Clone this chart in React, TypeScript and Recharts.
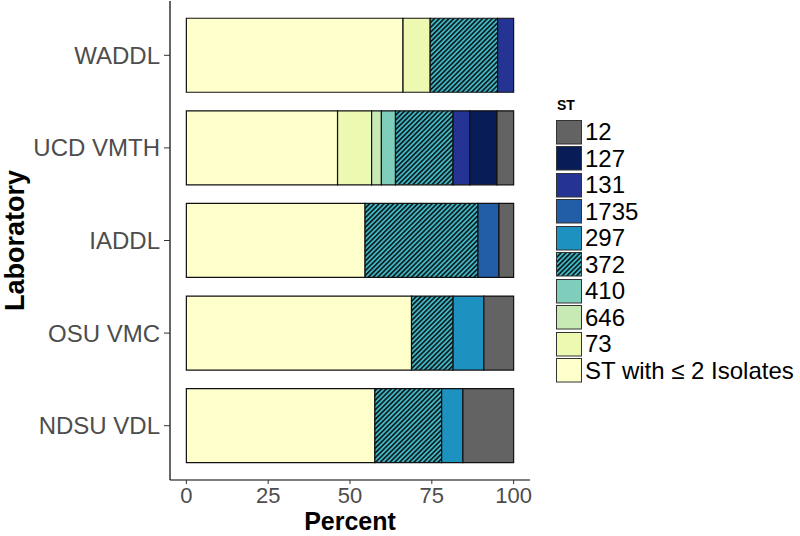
import { BarChart, Bar, XAxis, YAxis } from 'recharts';

const labs = ['WADDL', 'UCD VMTH', 'IADDL', 'OSU VMC', 'NDSU VDL'];

// percent of isolates per ST, in lab order
const stRare = [66.2, 46.2, 54.6, 68.8, 57.6];
const st73 = [8.3, 10.4, 0, 0, 0];
const st646 = [0, 3.0, 0, 0, 0];
const st410 = [0, 4.3, 0, 0, 0];
const st372 = [20.6, 17.6, 34.5, 12.7, 20.4];
const st297 = [0, 0, 0, 9.4, 6.5];
const st1735 = [0, 0, 6.4, 0, 0];
const st131 = [4.9, 5.1, 0, 0, 0];
const st127 = [0, 8.3, 0, 0, 0];
const st12 = [0, 5.1, 4.5, 9.1, 15.5];

const xTicks = [0, 25, 50, 75, 100];

// stacking order left -> right
const series = [
  { key: 'rare', name: 'ST with \u2264 2 Isolates', values: stRare, color: '#FFFFCC' },
  { key: 's73', name: '73', values: st73, color: '#EDF8B1' },
  { key: 's646', name: '646', values: st646, color: '#C7E9B4' },
  { key: 's410', name: '410', values: st410, color: '#7FCDBB' },
  { key: 's372', name: '372', values: st372, color: 'url(#hatch372)' },
  { key: 's297', name: '297', values: st297, color: '#1D91C0' },
  { key: 's1735', name: '1735', values: st1735, color: '#225EA8' },
  { key: 's131', name: '131', values: st131, color: '#253494' },
  { key: 's127', name: '127', values: st127, color: '#081D58' },
  { key: 's12', name: '12', values: st12, color: '#636363' },
];

const data = labs.map((lab, i) => {
  const row: Record<string, any> = { lab };
  series.forEach((s) => (row[s.key] = s.values[i]));
  return row;
});

const FONT = '"Liberation Sans", Arial, sans-serif';

const Hatch = ({ id }: { id: string }) => (
  <pattern id={id} patternUnits="userSpaceOnUse" width={3.4} height={3.4} patternTransform="rotate(45)">
    <rect x={0} y={0} width={3.4} height={3.4} fill="#41B6C4" />
    <line x1={0.8} y1={0} x2={0.8} y2={3.4} stroke="#000" strokeWidth={1.4} />
  </pattern>
);

const LegendBox = () => (
  <div style={{ position: 'absolute', left: 552, top: 97, fontFamily: FONT, color: '#000' }}>
    <div style={{ fontWeight: 'bold', fontSize: 14, marginLeft: 5, height: 22, lineHeight: '16px' }}>ST</div>
    {[...series].reverse().map((s) => (
      <div key={s.key} style={{ display: 'flex', alignItems: 'center', height: 26.5 }}>
        <svg width={27} height={25} style={{ marginLeft: 4 }}>
          <defs><Hatch id={`leg-${s.key}`} /></defs>
          <rect x={0.5} y={0.5} width={25} height={23.5}
            fill={s.key === 's372' ? `url(#leg-${s.key})` : s.color} stroke="#333" strokeWidth={1} />
        </svg>
        <span style={{ fontSize: 24, marginLeft: 2, whiteSpace: 'nowrap' }}>{s.name}</span>
      </div>
    ))}
  </div>
);

const YTitle = () => (
  <text x={24} y={240.5} transform="rotate(-90, 24, 240.5)" textAnchor="middle"
    style={{ fontFamily: FONT, fontWeight: 'bold', fontSize: 27, fill: '#000' }}>
    Laboratory
  </text>
);

const XTitle = () => (
  <text x={350} y={530} textAnchor="middle"
    style={{ fontFamily: FONT, fontWeight: 'bold', fontSize: 25, fill: '#000' }}>
    Percent
  </text>
);

export default function App() {
  return (
    <div style={{ position: 'absolute', left: 0, top: 0, width: 800, height: 536, background: '#fff' }}>
      <BarChart
        width={800}
        height={536}
        data={data}
        layout="vertical"
        barCategoryGap="10%"
        margin={{ top: 1, right: 270, left: 0, bottom: 0 }}
      >
        <defs>
          <Hatch id="hatch372" />
        </defs>
        <XAxis
          type="number"
          domain={[-5, 105]}
          ticks={xTicks}
          allowDataOverflow
          height={56}
          tickSize={4}
          tickMargin={3}
          axisLine={{ stroke: '#000', strokeWidth: 1.2 }}
          tickLine={{ stroke: '#333' }}
          tick={{ fill: '#4D4D4D', fontSize: 22, fontFamily: FONT }}
          label={<XTitle />}
        />
        <YAxis
          type="category"
          dataKey="lab"
          width={170}
          padding={{ top: 8, bottom: 8 }}
          tickSize={6}
          tickMargin={4}
          axisLine={{ stroke: '#000', strokeWidth: 1.2 }}
          tickLine={{ stroke: '#333' }}
          tick={{ fill: '#4D4D4D', fontSize: 24, fontFamily: FONT }}
          label={<YTitle />}
        />
        {series.map((s) => (
          <Bar
            key={s.key}
            dataKey={s.key}
            name={s.name}
            stackId="lab"
            fill={s.color}
            stroke="#111"
            strokeWidth={1.2}
            isAnimationActive={false}
          />
        ))}
      </BarChart>
      <LegendBox />
    </div>
  );
}
